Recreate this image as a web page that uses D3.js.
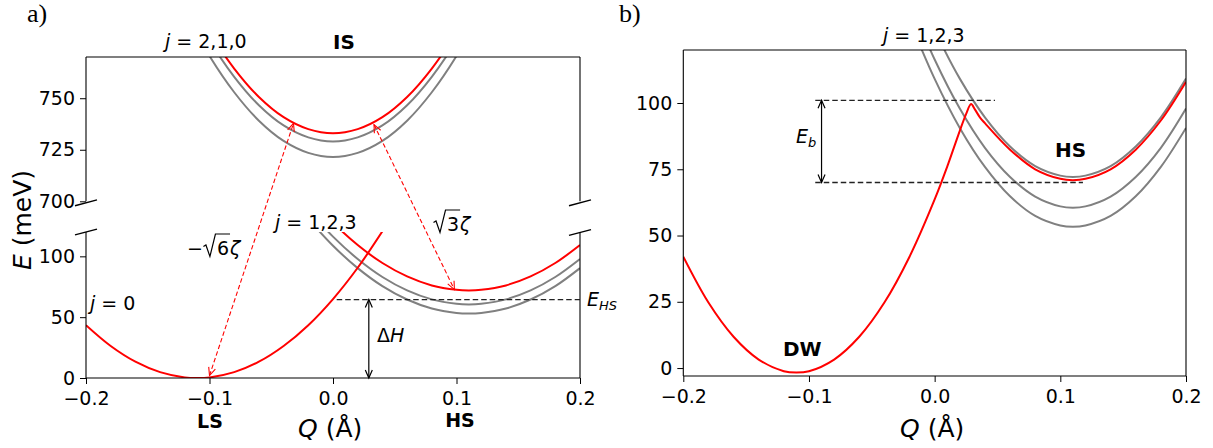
<!DOCTYPE html>
<html><head><meta charset="utf-8">
<script src="https://cdn.jsdelivr.net/npm/d3@7"></script>
<style>
body{margin:0;background:#fff}
svg text{font-family:"DejaVu Sans",sans-serif;fill:#000}
</style>
</head><body>
<svg id="c" width="1213" height="448"></svg>
<script>
// ---------------- data ----------------
const xTicks = [-0.2, -0.1, 0.0, 0.1, 0.2];
const yTicksUpA = [700, 725, 750];
const yTicksLoA = [0, 50, 100];
const yTicksB = [0, 25, 50, 75, 100];

// panel a, upper part (IS, j = 2,1,0)
const Q_IS = [-0.12,-0.10,-0.08,-0.06,-0.04,-0.02,0,0.02,0.04,0.06,0.08,0.10,0.12];
const E_IS_red   = [803.6,782,764.4,750.6,740.8,735,733,735,740.8,750.6,764.4,782,803.6];
const E_IS_gray1 = [799.6,778,760.4,746.6,736.8,731,729,731,736.8,746.6,760.4,778,799.6];
const E_IS_gray2 = [792.1,770.5,752.9,739.1,729.3,723.5,721.5,723.5,729.3,739.1,752.9,770.5,792.1];

// panel a, lower part (LS j = 0 and HS j = 1,2,3)
const Q_LS = [-0.20,-0.18,-0.16,-0.14,-0.12,-0.11,-0.10,-0.08,-0.06,-0.04,-0.02,0,0.02,0.04];
const E_LS = [43.4,26.3,13.4,4.8,0.5,0,0.5,4.8,13.4,26.3,43.4,64.9,90.6,120.6];
const Q_HS = [-0.02,0,0.02,0.04,0.06,0.08,0.10,0.11,0.12,0.14,0.16,0.18,0.20];
const E_HSa_red   = [149.7,127.7,109.3,94.5,83.5,76.1,72.5,72,72.5,76.1,83.5,94.5,109.3];
const E_HSa_gray1 = [138.2,116.2,97.8,83,72,64.6,61,60.5,61,64.6,72,83,97.8];
const E_HSa_gray2 = [130.7,108.7,90.3,75.5,64.5,57.1,53.5,53,53.5,57.1,64.5,75.5,90.3];
const E_HS_level = 64.5;           // dashed E_HS line
const E_HS_range = [0.003, 0.2];   // its Q extent
const dH_Q = 0.029;                // ΔH arrow position

// panel b
const Q_DW = [-0.20,-0.18,-0.16,-0.14,-0.12,-0.11,-0.10,-0.08,-0.06,-0.04,-0.02,0,0.01,0.02,0.025,0.029,0.032,0.036,0.04,0.06,0.08,0.10,0.11,0.12,0.14,0.16,0.18,0.20];
const E_DW = [42.0,24.7,11.8,3.2,-1.2,-1.7,-1.2,3.2,11.8,24.7,42.0,63.6,76.0,89.5,95.8,99.6,97.6,94.6,92.4,82.4,75.0,71.4,70.9,71.4,75.0,82.4,93.4,108.0];
const E_HSb_gray1 = [149.6,127.6,109.2,94.6,83.6,76.2,72.6,72.1,72.6,76.2,83.6,94.6,109.2];
const E_HSb_gray2 = [138.6,116.4,97.9,83.1,72.1,64.7,61.0,60.5,61.0,64.7,72.1,83.1,97.9];
const E_HSb_gray3 = [131.2,109.1,90.6,75.9,64.8,57.4,53.8,53.3,53.8,57.4,64.8,75.9,90.6];
const Eb_top = 101, Eb_bot = 70;
const Eb_topRange = [-0.095, 0.048], Eb_botRange = [-0.095, 0.118];
const Eb_Q = -0.09;

// red dashed transition arrows in panel a: [Q, E, part]
const zetaArrows = [
  [[-0.100, 2.0, "lo"], [-0.032, 737.8, "up"]],
  [[0.0332, 737.2, "up"], [0.0983, 72.7, "lo"]]
];

// ---------------- drawing ----------------
const svg = d3.select("#c");
const RED = "#ff0000", GRAY = "#808080";
const FS = 19;

const xA  = d3.scaleLinear().domain([-0.2, 0.2]).range([86, 580]);
const yUp = d3.scaleLinear().domain([700, 770]).range([201.3, 57]);
const yLo = d3.scaleLinear().domain([0, 120]).range([378, 232]);
const xB  = d3.scaleLinear().domain([-0.2, 0.2]).range([683.3, 1186]);
const yB  = d3.scaleLinear().domain([-3, 120]).range([376, 50]);
const yPart = {up: yUp, lo: yLo};

const defs = svg.append("defs");
function clipRect(id, x, y) {
  defs.append("clipPath").attr("id", id).append("rect")
    .attr("x", x.range()[0]).attr("y", y.range()[1])
    .attr("width", x.range()[1] - x.range()[0])
    .attr("height", y.range()[0] - y.range()[1]);
  return svg.append("g").attr("clip-path", `url(#${id})`);
}
function curve(g, x, y, qs, es, color, w) {
  g.append("path")
    .attr("d", d3.line().x((d, i) => x(qs[i])).y(d => y(d)).curve(d3.curveCatmullRom.alpha(0.5))(es))
    .attr("fill", "none").attr("stroke", color).attr("stroke-width", w || 2);
}
function head(g, x, y, ang, color, w) {
  const L = 8, H = 3.5, c = Math.cos(ang), s = Math.sin(ang);
  g.append("path")
    .attr("d", `M${x - L*c - H*s},${y - L*s + H*c}L${x},${y}L${x - L*c + H*s},${y - L*s - H*c}`)
    .attr("fill", "none").attr("stroke", color).attr("stroke-width", w);
}
function dArrow(x1, y1, x2, y2, color, w, dash) {
  const g = svg.append("g");
  g.append("line").attr("x1", x1).attr("y1", y1).attr("x2", x2).attr("y2", y2)
    .attr("stroke", color).attr("stroke-width", w).attr("stroke-dasharray", dash || null);
  const a = Math.atan2(y2 - y1, x2 - x1);
  head(g, x2, y2, a, color, w);
  head(g, x1, y1, a + Math.PI, color, w);
}
function hDash(x, y, q0, q1, e) {
  svg.append("line").attr("x1", x(q0)).attr("x2", x(q1)).attr("y1", y(e)).attr("y2", y(e))
    .attr("stroke", "#222").attr("stroke-width", 1.3).attr("stroke-dasharray", "5.5,3");
}
function spine(x1, y1, x2, y2) {
  svg.append("line").attr("x1", x1).attr("y1", y1).attr("x2", x2).attr("y2", y2)
    .attr("stroke", "#000").attr("stroke-width", 1.1);
}
function styleAxis(g) {
  g.select(".domain").remove();
  g.selectAll(".tick line").attr("stroke", "#000").attr("stroke-width", 1);
  g.selectAll(".tick text").attr("font-size", FS).attr("font-family", "DejaVu Sans").attr("fill", "#000");
}

// --- panel a curves
const gUp = clipRect("cUp", xA, yUp);
curve(gUp, xA, yUp, Q_IS, E_IS_gray2, GRAY);
curve(gUp, xA, yUp, Q_IS, E_IS_gray1, GRAY);
curve(gUp, xA, yUp, Q_IS, E_IS_red, RED);
const gLo = clipRect("cLo", xA, yLo);
curve(gLo, xA, yLo, Q_HS, E_HSa_gray2, GRAY);
curve(gLo, xA, yLo, Q_HS, E_HSa_gray1, GRAY);
curve(gLo, xA, yLo, Q_HS, E_HSa_red, RED);
curve(gLo, xA, yLo, Q_LS, E_LS, RED);

// --- panel a spines, axes, break marks
const [ax0, ax1] = xA.range();
spine(ax0, yUp.range()[1], ax1, yUp.range()[1]);
spine(ax0, yUp.range()[1], ax0, yUp.range()[0]);
spine(ax1, yUp.range()[1], ax1, yUp.range()[0]);
spine(ax0, yLo.range()[1], ax0, yLo.range()[0]);
spine(ax1, yLo.range()[1], ax1, yLo.range()[0]);
spine(ax0, yLo.range()[0], ax1, yLo.range()[0]);
[[ax0, yUp.range()[0] + 1.5], [ax1, yUp.range()[0] + 1.5], [ax0, yLo.range()[1]], [ax1, yLo.range()[1] + 0.5]].forEach(([cx, cy]) => {
  svg.append("line").attr("x1", cx - 11).attr("y1", cy + 2.9).attr("x2", cx + 11).attr("y2", cy - 2.9)
    .attr("stroke", "#000").attr("stroke-width", 1.4);
});
styleAxis(svg.append("g").attr("transform", `translate(${ax0},0)`)
  .call(d3.axisLeft(yUp).tickValues(yTicksUpA).tickFormat(d3.format("d")).tickSize(6).tickPadding(5)));
styleAxis(svg.append("g").attr("transform", `translate(${ax0},0)`)
  .call(d3.axisLeft(yLo).tickValues(yTicksLoA).tickFormat(d3.format("d")).tickSize(6).tickPadding(5)));
styleAxis(svg.append("g").attr("transform", `translate(0,${yLo.range()[0]})`)
  .call(d3.axisBottom(xA).tickValues(xTicks).tickFormat(d3.format(".1f")).tickSize(6).tickPadding(8)));

// --- panel a annotations
hDash(xA, yLo, E_HS_range[0], E_HS_range[1], E_HS_level);
dArrow(xA(dH_Q), yLo(0), xA(dH_Q), yLo(E_HS_level), "#000", 1.2);
zetaArrows.forEach(([p, q]) => {
  dArrow(xA(p[0]), yPart[p[2]](p[1]), xA(q[0]), yPart[q[2]](q[1]), RED, 1.1, "4.5,2.5");
});

// --- panel b
const gB = clipRect("cB", xB, yB);
curve(gB, xB, yB, Q_HS, E_HSb_gray3, GRAY);
curve(gB, xB, yB, Q_HS, E_HSb_gray2, GRAY);
curve(gB, xB, yB, Q_HS, E_HSb_gray1, GRAY);
curve(gB, xB, yB, Q_DW, E_DW, RED);
const [bx0, bx1] = xB.range(), [by0, by1] = yB.range();
spine(bx0, by1, bx1, by1); spine(bx0, by0, bx1, by0);
spine(bx0, by1, bx0, by0); spine(bx1, by1, bx1, by0);
styleAxis(svg.append("g").attr("transform", `translate(${bx0},0)`)
  .call(d3.axisLeft(yB).tickValues(yTicksB).tickFormat(d3.format("d")).tickSize(6).tickPadding(5)));
styleAxis(svg.append("g").attr("transform", `translate(0,${by0})`)
  .call(d3.axisBottom(xB).tickValues(xTicks).tickFormat(d3.format(".1f")).tickSize(6).tickPadding(8)));
hDash(xB, yB, Eb_topRange[0], Eb_topRange[1], Eb_top);
hDash(xB, yB, Eb_botRange[0], Eb_botRange[1], Eb_bot);
dArrow(xB(Eb_Q), yB(Eb_top), xB(Eb_Q), yB(Eb_bot), "#000", 1.2);

// ---------------- text ----------------
function T(x, y, opts) {
  const t = svg.append("text").attr("x", x).attr("y", y).attr("font-size", (opts && opts.size) || FS);
  if (opts && opts.anchor) t.attr("text-anchor", opts.anchor);
  if (opts && opts.weight) t.attr("font-weight", opts.weight);
  if (opts && opts.family) t.style("font-family", opts.family);
  return t;
}
function jLabel(x, y, rest) {
  const t = T(x, y);
  t.append("tspan").attr("font-style", "italic").text("j");
  t.append("tspan").text(" = " + rest);
}
T(27, 22, {size: 26, family: "'Liberation Serif', serif"}).text("a)");
T(619, 22, {size: 26, family: "'Liberation Serif', serif"}).text("b)");
jLabel(165, 48, "2,1,0");
T(333, 49, {weight: "bold", size: 20}).text("IS");
jLabel(275, 229, "1,2,3");
jLabel(90, 310, "0");
jLabel(883, 42, "1,2,3");
T(210, 428, {weight: "bold", size: 19, anchor: "middle"}).text("LS");
T(460, 427, {weight: "bold", size: 19, anchor: "middle"}).text("HS");
T(1055, 157, {weight: "bold", size: 20}).text("HS");
T(783, 356, {weight: "bold", size: 20}).text("DW");

// radical drawn as a path, radicand and ζ as text
function sqrtLabel(x, y, pre, rad) {
  const t = T(x, y);
  if (pre) t.append("tspan").text(pre);
  t.append("tspan").attr("dx", 14).text(rad);
  t.append("tspan").attr("dx", 1).attr("font-style", "italic").text("ζ");
  const n = t.node(), i = pre ? 1 : 0;
  const eR = n.getExtentOfChar(i);
  const x0 = eR.x - 13.5, top = y - 21;
  svg.append("path")
    .attr("d", `M${x0},${y - 8.5}L${x0 + 2.5},${y - 10}L${x0 + 6.5},${y + 1.5}L${x0 + 12},${top}L${eR.x + eR.width + 1},${top}`)
    .attr("fill", "none").attr("stroke", "#000").attr("stroke-width", 1.2).attr("stroke-linejoin", "miter");
}
sqrtLabel(187, 255, "−", "6");
sqrtLabel(433, 231, "", "3");

let t = T(587, 306);
t.append("tspan").attr("font-style", "italic").text("E");
t.append("tspan").attr("font-style", "italic").attr("font-size", 13).attr("dy", 4).text("HS");
t = T(377, 342);
t.append("tspan").text("Δ");
t.append("tspan").attr("font-style", "italic").text("H");
t = T(796, 143);
t.append("tspan").attr("font-style", "italic").text("E");
t.append("tspan").attr("font-style", "italic").attr("font-size", 13).attr("dy", 4).text("b");

function qLabel(x) {
  const q = T(x, 437, {size: 25});
  q.append("tspan").attr("font-style", "italic").text("Q");
  q.append("tspan").text(" (Å)");
}
qLabel(298); qLabel(900);
const ey = T(0, 0, {size: 25, anchor: "middle"}).attr("transform", "translate(31,220) rotate(-90)");
ey.append("tspan").attr("font-style", "italic").text("E");
ey.append("tspan").text(" (meV)");
</script>
</body></html>
